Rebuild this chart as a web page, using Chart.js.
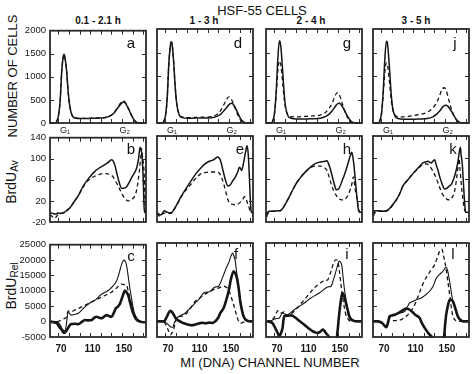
<!DOCTYPE html>
<html><head><meta charset="utf-8">
<script src="https://cdn.jsdelivr.net/npm/chart.js@4.4.1/dist/chart.umd.min.js"></script>
<style>
html,body{margin:0;padding:0;background:#fff;}
body{width:474px;height:374px;position:relative;overflow:hidden;font-family:"Liberation Sans",Arial,"DejaVu Sans",sans-serif;color:#111;}
.t{position:absolute;white-space:nowrap;transform:translate(-50%,-50%);line-height:1;}
.r{transform:translate(-50%,-50%) rotate(-90deg);}
.t sub{font-size:72%;vertical-align:-0.25em;}
.p{position:absolute;}
.lt{position:absolute;font-size:15px;line-height:1;transform:translate(-50%,-50%);}
</style></head><body>

<div class="t" style="left:262px;top:10px;font-size:13px;">HSF-55 CELLS</div>
<div class="t" style="left:98px;top:21px;font-size:10px;font-weight:bold;">0.1 - 2.1 h</div>
<div class="t" style="left:204px;top:21px;font-size:10px;font-weight:bold;">1 - 3 h</div>
<div class="t" style="left:311px;top:21px;font-size:10px;font-weight:bold;">2 - 4 h</div>
<div class="t" style="left:416px;top:21px;font-size:10px;font-weight:bold;">3 - 5 h</div>
<div class="t r" style="left:12px;top:76px;font-size:13px;">NUMBER OF CELLS</div>
<div class="t r" style="left:12px;top:182px;font-size:14px;">BrdU<sub>Av</sub></div>
<div class="t r" style="left:12px;top:286px;font-size:14px;">BrdU<sub>Rel</sub></div>
<div class="t" style="left:270px;top:362px;font-size:13px;">MI (DNA) CHANNEL NUMBER</div>

<script>
// ---------- DATA ----------
// Row 1: cell number histograms (x = DNA channel)
const histChannels = [56,62,65,67,69,71,73,74,75,77,79,81,84,88,95,105,115,125,132,137,141,144,147,149,151,153,156,159,162,165,168,178];
const aSolid  = [0,0,50,180,500,1150,1450,1490,1420,1150,700,380,170,110,95,100,105,115,150,210,300,370,430,455,440,400,300,190,90,30,5,0];
const aDashed = [0,0,55,190,510,1150,1440,1480,1410,1140,690,375,170,110,98,102,108,118,155,215,310,390,460,480,460,410,300,180,80,25,5,0];
const dSolid  = [0,0,45,180,540,1250,1650,1730,1700,1350,800,420,180,115,100,105,105,110,140,190,260,320,380,410,420,395,310,200,100,35,8,0];
const dDashed = [0,0,45,180,540,1240,1630,1710,1680,1330,790,420,190,130,115,120,125,135,180,270,390,490,555,540,490,410,280,160,70,20,5,0];
const gSolid  = [0,0,60,230,680,1350,1750,1720,1600,1150,650,330,150,100,85,85,90,100,140,200,280,350,410,420,400,350,260,160,80,25,5,0];
const gDashed = [0,0,60,220,620,1100,1320,1300,1220,900,540,300,170,135,130,140,150,170,230,330,460,590,645,610,520,410,260,140,60,15,3,0];
const jSolid  = [0,0,60,230,680,1350,1740,1720,1600,1150,640,320,140,95,80,80,85,95,130,190,260,330,375,380,360,320,240,150,75,25,5,0];
const jDashed = [0,0,60,220,610,1080,1280,1260,1180,860,510,290,170,135,130,150,180,230,320,440,600,730,750,690,580,450,280,150,60,15,3,0];

// Row 2: BrdU_Av  [channel, value]
const bSolid  = [[56,-2],[60,-4],[63,-5],[66,-3],[70,-4],[75,-1],[78,3],[81.4,7],[86,17],[92,30],[97,45],[102.6,58],[108,68],[113,76],[118,82],[123.7,87],[129,92],[134.4,98],[136.5,95],[138.6,87],[141,72],[144,55],[147,44],[150,44],[153.4,47],[157,56],[160,65],[162,70],[166,82],[168.5,100],[170.4,122],[172,115],[173,104],[174.5,60],[175.5,10],[176.7,-2],[178,-3]];
const bDashed = [[56,-6],[59,-10],[62,-13],[65,-8],[68,-4],[72,-3],[76,-1],[80,5],[86,17],[92,30],[97,43],[100.5,52],[104,58],[108,63],[113,67],[118,70],[123,72],[128,72],[132,70],[136,66],[139,58],[142,50],[145,41],[148,32],[151,25],[155.5,20],[158,21],[161,24],[164,30],[166,40],[168,58],[169.5,76],[171.5,105],[172.5,119],[173.5,105],[174.5,93],[176,60],[177,0],[178,-2]];
const eSolid  = [[56,-2],[58,-5],[61,-7],[63,-3],[65,1],[68,-1],[71,-3],[74,-3],[77,2],[81,12],[86.5,27],[92,40],[99,56],[105,69],[112,81],[117,88],[122.5,93],[127,95],[130,98],[133,101],[135,99],[137,93],[140,75],[143,58],[146,47],[149,49],[152,56],[156,65],[159,75],[160.6,82],[162,80],[163.6,76],[166,90],[168.5,110],[170.4,122],[172,105],[173.5,60],[175,10],[176,-2],[178,-3]];
const eDashed = [[56,-4],[58,-8],[61,-9],[64,-4],[67,-3],[71,-4],[74,-4],[77,1],[81,11],[86.5,26],[92,38],[99,50],[105,61],[112,70],[117,72],[122,73],[128,73],[134.7,72],[137,66],[139.5,57],[141.5,47],[144,33],[146,22],[148,16],[152,13],[155,12],[158.5,13],[162,17],[165,22],[167,27],[169,24],[171,15],[173,7],[175,-2],[178,-3]];
const hSolid  = [[56,-2],[57,-10],[58,-2],[61,0],[66,0],[70,1],[74,1],[78,7],[82,17],[86,28],[90,40],[95,53],[100,63],[104,70],[108,76],[114,84],[120.8,90],[127,92],[131,93],[133.5,94],[135,90],[137.7,79],[140,66],[142.5,52],[145.3,40],[148,41],[150,46],[152.5,56],[155,65],[158,78],[161,93],[163,103],[165,110],[166.5,100],[168,82],[170,50],[172,20],[173.7,1],[176,-2],[178,-2]];
const hDashed = [[56,-2],[58,-5],[61,0],[66,0],[70,1],[74,1],[78,7],[82,17],[86,28],[90,40],[95,53],[100,63],[104,70],[108,76],[114,82],[120,84],[125,84],[129,82],[133.5,76],[136,65],[139,50],[142,38.5],[145,30],[148,24],[152.5,21],[156,22],[159,27],[162,36],[165,50],[167,64],[168.5,50],[170,35],[171.6,24],[173,10],[175,-2],[178,-2]];
const kSolid  = [[56,1],[57,-8],[58,1],[62,1],[68,0],[73,1],[77,5],[81.4,13],[86,22],[90,33],[94,47],[100,58],[106.8,70],[113,80],[119.5,90],[123,92],[126,93],[128,91],[130,90],[132,93],[134.4,96],[136,88],[138.6,76],[141,63],[144,50],[147,41.5],[150,43],[153,47],[155.5,50],[158,58],[161,72],[164,93],[165.5,108],[167,119],[168,105],[169.5,87],[171,50],[172.5,15],[173.8,-2],[178,-2]];
const kDashed = [[56,1],[58,-3],[62,0],[68,0],[73,0],[77,4],[81.4,12],[86,22],[90,33],[94,47],[100,58],[106.8,70],[113,79],[119.5,87],[124,88],[128,84],[132,75],[136.5,61],[140,47],[143,36],[145,30],[148,25],[150,22],[153.4,21],[156,24],[159.8,38],[162,58],[164,82],[165.3,98],[166.5,80],[168,53],[170,25],[172,5],[174,-2],[178,-2]];

// Row 3: BrdU_Rel  [channel, value]
const cThin   = [[56,0],[64.5,0],[68.7,-1000],[72,-2500],[75,-3000],[77,-500],[79,3200],[81,2600],[83.5,2100],[88,2400],[92,2700],[97,3900],[102.6,5300],[108,6300],[113,6900],[116,7600],[119.5,8500],[124,9300],[127,9700],[130,10100],[133,10800],[136.5,11700],[140.7,13300],[143,15000],[145,16800],[147,18600],[150,20000],[152,19500],[153.4,18100],[155.5,14500],[157.6,10650],[160,7000],[161.8,4260],[164,2200],[168,530],[172,0],[176.7,-200],[178,-200]];
const cDashed = [[56,0],[64,0],[68,200],[72,700],[75,1100],[77,1500],[79,3400],[83.5,3300],[88,3800],[92,4260],[98,5000],[104.7,5860],[111,6700],[117.4,7450],[125,8400],[130,9000],[134.4,9600],[140,10800],[144,11700],[147,12200],[150,12000],[153.4,11700],[155.5,9800],[157.6,7450],[161,4500],[164,2120],[168,600],[172,0],[178,0]];
const cThick  = [[56,0],[64.5,-500],[68,-1800],[70.8,-2650],[74,-3700],[76,-3300],[79,-2100],[81,-1200],[83.5,-800],[88,-700],[92,-800],[96,-200],[100.5,530],[105,400],[109,530],[112,1200],[115,1600],[118,1300],[121.7,1070],[125,1700],[128,2120],[131,1800],[134.4,1600],[137,2800],[139.5,4260],[142,4800],[145,5860],[148,8000],[151.3,10100],[153,9600],[155.5,8500],[158,6000],[161.8,2670],[165,900],[168,200],[172,-100],[176.7,-200],[178,-200]];
const fThin   = [[56,0],[63,0],[66,-200],[70,-1000],[73,-1700],[76,-1900],[78,-500],[81.4,1070],[86,1900],[92,2670],[96,3700],[100.5,4800],[105,6000],[109,6900],[112,8000],[115.3,9050],[119,9300],[123.7,9600],[128,10650],[131,11000],[134.4,11200],[137,12500],[140.7,14900],[144,17000],[147,18600],[150,20800],[152,21800],[153.5,21000],[155.5,19150],[157.5,15000],[159.8,10650],[162,6500],[164,3700],[167,1200],[170,500],[174,0],[178,0]];
const fDashed = [[56,0],[65,-300],[68,-1500],[70.5,-3000],[73,-4250],[75,-3700],[77,-2650],[79,-700],[81,1070],[86,1600],[92,2120],[98,4000],[104.7,6400],[109,7200],[113,7900],[118,8800],[123,9500],[128,10100],[134,10600],[140.7,11200],[144,10900],[147,10100],[150,8000],[153.4,5300],[156.5,2500],[159.8,0],[162,-600],[165,-300],[170,0],[178,0]];
const fThick  = [[56,0],[65,0],[68,1200],[70.8,2670],[73,3400],[75,3000],[77.2,2100],[80,900],[83.5,200],[88,-400],[92,-800],[96,-1100],[100.5,-1260],[105,-1000],[109,-700],[113,-500],[118,-600],[122,-400],[126,-500],[129,-200],[132,530],[134.5,1500],[136.5,2670],[140.7,4260],[143,6000],[147,9600],[150,13500],[153.4,16000],[155.5,15300],[157.6,13800],[159.8,10500],[161.8,6400],[164,3500],[166,1600],[170,200],[174,0],[178,0]];
const iThin   = [[56,0],[62,200],[66.6,700],[70,900],[73,1070],[77,2670],[80,2300],[83.5,2120],[88,2900],[92,3700],[98,4700],[104.7,5860],[109,6700],[113,7450],[118,8200],[123.7,9050],[128,9800],[132,10650],[135,11000],[138.6,11200],[141,12700],[143.7,14900],[146,17000],[149,19150],[151,18800],[152.5,17550],[154,14000],[155.5,10650],[158,6500],[160.6,3200],[163,1500],[166,500],[170,0],[178,0]];
const iDashed = [[56,0],[62,300],[66.6,1300],[69,2500],[70.8,3400],[73,2700],[76,2700],[79,3000],[81,2300],[83.5,1600],[88,2400],[92,3200],[98,5000],[104.7,6900],[111,8800],[117.4,10650],[123,11800],[128,12750],[134.4,13300],[138,15500],[142.8,19150],[145,19600],[147,19500],[149,16500],[151.3,11700],[153.5,7500],[155.5,4500],[157.6,2120],[161,500],[165,0],[178,0]];
const iThick  = [[56,0],[64,-500],[68.7,-2650],[71,-3800],[73,-4770],[75,-3800],[77,-2100],[79,1600],[83,1800],[87.8,1900],[91,1600],[94,1070],[99,0],[104.7,-1060],[110,-2200],[115.3,-3170],[121.7,-3700],[125,-3300],[128,-2650],[130,-3000],[132,-3700],[134,-4300],[136.5,-5200],[140,-7000],[145,-7000],[147,-3000],[148.5,1000],[150.4,5300],[152,8000],[153.4,9050],[155.5,7800],[157.6,5860],[159.8,3600],[161.8,1600],[164,600],[168,100],[172,0],[178,0]];
const lThin   = [[56,0],[62,0],[66,-300],[68.7,-800],[71,-1500],[73,-1900],[75,-500],[77.2,1600],[80,1800],[83.5,1900],[89.9,2670],[96.3,3200],[100,4800],[102.6,5860],[107,6400],[111,6900],[117.4,7450],[122,8300],[128,9600],[132,11000],[136.5,13800],[140,14800],[145,16000],[149,17250],[151,16000],[152.5,14000],[154.7,10650],[157,7000],[160.6,3700],[163,1800],[166,600],[170,0],[178,0]];
const lDashed = [[56,0],[62,0],[66,-300],[70,-1000],[73,-1600],[75,-300],[77,1070],[80,500],[83.5,200],[88,400],[92,530],[96,1300],[100.5,2120],[105,3500],[109,5300],[113,7800],[117.4,10650],[121,12800],[126,14900],[130,16500],[134.4,18100],[138,20500],[140.7,22350],[143.7,23000],[145.5,21000],[148,18100],[151,13000],[153.4,8500],[155.5,4500],[157.6,1600],[161,300],[165,0],[178,0]];
const lThick  = [[56,0],[62,0],[66,-300],[68.7,-800],[71,-1500],[73,-1900],[75,-500],[77,1600],[80,1900],[83.5,2100],[88,2600],[92,3200],[95,3700],[98.3,4050],[100,4000],[102.6,3700],[106,3000],[110,2000],[115.3,1070],[118,-500],[121.7,-2100],[125,-3300],[128,-4250],[131.4,-5200],[134,-7000],[144,-7000],[146.2,-5300],[147.5,-1500],[149,2120],[151,4800],[153.4,6900],[155.5,6800],[157.6,6400],[159.8,4800],[161.8,3200],[164,1500],[167,500],[171,0],[178,0]];

// Axes / tick labels
const countTicks = [0,500,1000,1500,2000];
const avTicks = [-20,20,60,100,140];
const relTicks = [-5000,0,5000,10000,15000,20000,25000];
const channelLabels = [70,110,150];
const phaseTicks = [75,151];
const phaseLabels = ['G\u2081','G\u2082'];
const channelTickMarks = [66.5,80,93.5,107,120.5,134,147.5,161,174.5];
const panelLetters = [['a','b','c'],['d','e','f'],['g','h','i'],['j','k','l']];

// ---------- LAYOUT ----------
const colLeft = [50,157,266,373];
const rowTop = [29,136,243];
const FW = 96, FH = 94;
const xMin = 56, xMax = 178;
const rowRange = [[0,2000],[-20,140],[-5000,25000]];
const rowTicks = [countTicks, avTicks, relTicks];
const letterPos = [[[131,42],[131,148],[131,255]],[[238,42],[240,148],[236,253]],[[347,42],[347,148],[347,253]],[[455,42],[453,148],[453,253]]];
const FONT = '"Liberation Sans", Arial, "DejaVu Sans", sans-serif';

const ink = '#151515';
function toXY(arr){ return arr.map(p => ({x:p[0], y:p[1]})); }
function zipXY(xs, ys){ return xs.map((x,i)=>({x, y:ys[i]})); }
function ds(data, kind){
  const base = {data, borderColor:ink, pointRadius:0, fill:false, cubicInterpolationMode:'monotone', clip:1};
  if (kind==='solid') return Object.assign(base,{borderWidth:1.5});
  if (kind==='dashed') return Object.assign(base,{borderWidth:1.3, borderDash:[4,3]});
  if (kind==='thin') return Object.assign(base,{borderWidth:1.1});
  if (kind==='thick') return Object.assign(base,{borderWidth:2.6});
}

const panelSeries = [
  [ [ds(zipXY(histChannels,aSolid),'solid'), ds(zipXY(histChannels,aDashed),'dashed')],
    [ds(toXY(bSolid),'solid'), ds(toXY(bDashed),'dashed')],
    [ds(toXY(cThin),'thin'), ds(toXY(cDashed),'dashed'), ds(toXY(cThick),'thick')] ],
  [ [ds(zipXY(histChannels,dSolid),'solid'), ds(zipXY(histChannels,dDashed),'dashed')],
    [ds(toXY(eSolid),'solid'), ds(toXY(eDashed),'dashed')],
    [ds(toXY(fThin),'thin'), ds(toXY(fDashed),'dashed'), ds(toXY(fThick),'thick')] ],
  [ [ds(zipXY(histChannels,gSolid),'solid'), ds(zipXY(histChannels,gDashed),'dashed')],
    [ds(toXY(hSolid),'solid'), ds(toXY(hDashed),'dashed')],
    [ds(toXY(iThin),'thin'), ds(toXY(iDashed),'dashed'), ds(toXY(iThick),'thick')] ],
  [ [ds(zipXY(histChannels,jSolid),'solid'), ds(zipXY(histChannels,jDashed),'dashed')],
    [ds(toXY(kSolid),'solid'), ds(toXY(kDashed),'dashed')],
    [ds(toXY(lThin),'thin'), ds(toXY(lDashed),'dashed'), ds(toXY(lThick),'thick')] ]
];

const framePlugin = {
  id:'frame',
  afterDatasetsDraw(chart, args, opts){
    const {ctx, chartArea:a, scales:{x,y}} = chart;
    ctx.save();
    ctx.strokeStyle = '#2a2a2a';
    ctx.lineWidth = 1;
    ctx.beginPath();
    channelTickMarks.forEach(v => {
      const px = Math.round(x.getPixelForValue(v)) + 0.5;
      ctx.moveTo(px, a.top); ctx.lineTo(px, a.top + 4);
      ctx.moveTo(px, a.bottom); ctx.lineTo(px, a.bottom - 4);
    });
    opts.yMarks.forEach(v => {
      const py = Math.round(y.getPixelForValue(v)) + 0.5;
      if (py <= a.top + 2 || py >= a.bottom - 2) return;
      ctx.moveTo(a.left, py); ctx.lineTo(a.left + 4, py);
      ctx.moveTo(a.right, py); ctx.lineTo(a.right - 4, py);
    });
    ctx.stroke();
    ctx.lineWidth = 1.8;
    ctx.strokeRect(a.left, a.top, a.right - a.left, a.bottom - a.top);
    ctx.restore();
  }
};

function makePanel(col, row){
  const padL = col===0 ? 48 : 2, padR = 3, padT = 8;
  const padB = row===0 ? 16 : (row===1 ? 8 : 22);
  const W = FW + padL + padR, H = FH + padT + padB;
  const wrap = document.createElement('div');
  wrap.className = 'p';
  wrap.style.left = (colLeft[col] - padL) + 'px';
  wrap.style.top = (rowTop[row] - padT) + 'px';
  wrap.style.width = W + 'px'; wrap.style.height = H + 'px';
  const cv = document.createElement('canvas');
  cv.width = W; cv.height = H;
  cv.style.width = W + 'px'; cv.style.height = H + 'px';
  wrap.appendChild(cv);
  document.body.appendChild(wrap);

  const xTickVals = row===0 ? phaseTicks : channelLabels;
  new Chart(cv, {
    type:'line',
    data:{datasets: panelSeries[col][row]},
    plugins:[framePlugin],
    options:{
      responsive:false, animation:false, events:[],
      layout:{padding:{left: col===0 ? 0 : padL, right:padR, top:padT, bottom: row===1 ? padB : 0}},
      plugins:{legend:{display:false}, tooltip:{enabled:false}, frame:{yMarks: rowTicks[row]}},
      scales:{
        x:{
          type:'linear', min:xMin, max:xMax, display: row!==1,
          afterBuildTicks: s => { s.ticks = xTickVals.map(v => ({value:v})); },
          afterFit: s => { s.height = padB; },
          grid:{display:false, drawTicks:false}, border:{display:false},
          ticks:{
            autoSkip:false, maxRotation:0, minRotation:0, color:ink,
            padding: row===0 ? 2 : 6,
            font:{family:FONT, size: row===0 ? 9 : 10, weight: row===0 ? 'normal' : 'bold'},
            callback: v => row===0 ? phaseLabels[phaseTicks.indexOf(v)] : String(v)
          }
        },
        y:{
          type:'linear', min:rowRange[row][0], max:rowRange[row][1],
          afterBuildTicks: s => { s.ticks = rowTicks[row].map(v => ({value:v})); },
          afterFit: s => { s.width = col===0 ? padL : 0; },
          grid:{display:false, drawTicks:false}, border:{display:false},
          ticks:{display: col===0, color:ink, padding:4, font:{family:FONT, size:9.5}, callback: v => String(v)}
        }
      }
    }
  });

  const lp = letterPos[col][row];
  const lt = document.createElement('div');
  lt.className = 'lt';
  lt.style.left = lp[0] + 'px'; lt.style.top = lp[1] + 'px';
  lt.textContent = panelLetters[col][row];
  document.body.appendChild(lt);
}

for (let c = 0; c < 4; c++) for (let r = 0; r < 3; r++) makePanel(c, r);
</script>
</body></html>
